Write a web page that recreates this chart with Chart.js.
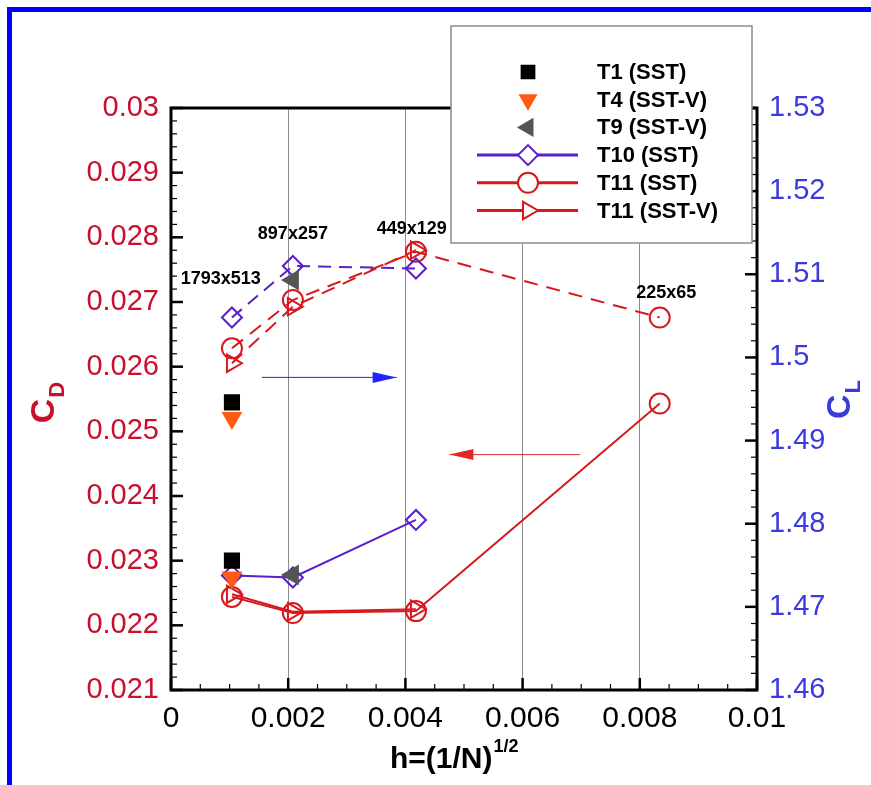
<!DOCTYPE html>
<html><head><meta charset="utf-8">
<script src="https://cdn.jsdelivr.net/npm/chart.js@4.4.0/dist/chart.umd.min.js"></script>
<style>
html,body{margin:0;padding:0;background:#fff;}
#wrap{position:relative;width:871px;height:785px;overflow:hidden;}
#frame{position:absolute;left:7px;top:7px;width:900px;height:900px;border-left:5px solid #0000ff;border-top:5px solid #0000ff;}
canvas{position:absolute;left:0;top:0;}
</style></head><body>
<div id="wrap"><div id="frame"></div><canvas id="c" width="871" height="785"></canvas></div>
<script>
// ---------- data ----------
const xTicks  = [0, 0.002, 0.004, 0.006, 0.008, 0.01];
const cdTicks = [0.021, 0.022, 0.023, 0.024, 0.025, 0.026, 0.027, 0.028, 0.029, 0.03];
const clTicks = [1.46, 1.47, 1.48, 1.49, 1.5, 1.51, 1.52, 1.53];

const hT1 = [0.00104];   const cdT1 = [0.0230];  const clT1 = [1.4946];
const hT4 = [0.00104];   const cdT4 = [0.02274]; const clT4 = [1.4927];
const hT9 = [0.00208];   const cdT9 = [0.02278]; const clT9 = [1.5093];
const hT10 = [0.00104, 0.00208, 0.00418];
const cdT10 = [0.02277, 0.02274, 0.02363];
const clT10 = [1.5048, 1.5110, 1.5107];
const hT11 = [0.00104, 0.00208, 0.00418, 0.00834];
const cdT11 = [0.02244, 0.02219, 0.02222, 0.02543];
const clT11 = [1.5011, 1.5069, 1.5127, 1.5048];
const hT11V = [0.00104, 0.00208, 0.00418];
const cdT11V = [0.02248, 0.02221, 0.02225];
const clT11V = [1.4993, 1.5061, 1.5129];

const meshLabels = ['1793x513', '897x257', '449x129', '225x65'];
const meshLabelH  = [0.00085, 0.00208, 0.00411, 0.00845];
const meshLabelCL = [1.5094, 1.5148, 1.5154, 1.5077];

const legendNames = ['T1 (SST)', 'T4 (SST-V)', 'T9 (SST-V)', 'T10 (SST)', 'T11 (SST)', 'T11 (SST-V)'];

// ---------- styles ----------
const FONT = '"Liberation Sans", Arial, Helvetica, sans-serif';
const RED = '#d7191e', PURPLE = '#5a1fc8', ORANGE = '#ff5a14', GRAY = '#555555';
const CD_TXT = '#c8102e', CL_TXT = '#3a3ade';
const NONE = 'rgba(0,0,0,0)';
const S = {
  T1:   {color:'#000', fill:'#000', style:'rect', rot:0, r:10, line:false, lw:1},
  T4:   {color:ORANGE, fill:ORANGE, style:'triangle', rot:180, r:10, line:false, lw:1},
  T9:   {color:GRAY, fill:GRAY, style:'triangle', rot:270, r:10, line:false, lw:1},
  T10:  {color:PURPLE, fill:NONE, style:'rectRot', rot:0, r:10, line:true, lw:2},
  T11:  {color:RED, fill:NONE, style:'circle', rot:0, r:10, line:true, lw:2},
  T11V: {color:RED, fill:NONE, style:'triangle', rot:90, r:10, line:true, lw:2}
};
const DASH = [13, 8];

function ds(label, hs, vals, axis, st, dash) {
  return {
    label, yAxisID: axis,
    data: hs.map((h, i) => ({x: h, y: vals[i]})),
    borderColor: st.color, backgroundColor: st.fill,
    borderWidth: st.lw, borderDash: dash || [], showLine: st.line,
    pointStyle: st.style, pointRotation: st.rot, pointRadius: st.r,
    pointBorderWidth: 2, pointBackgroundColor: st.fill, pointBorderColor: st.color,
    tension: 0, clip: false
  };
}

const datasets = [
  ds('T1 CD', hT1, cdT1, 'y', S.T1),
  ds('T1 CL', hT1, clT1, 'y2', S.T1),
  ds('T9 CD', hT9, cdT9, 'y', S.T9),
  ds('T9 CL', hT9, clT9, 'y2', S.T9),
  ds('T4 CD', hT4, cdT4, 'y', S.T4),
  ds('T4 CL', hT4, clT4, 'y2', S.T4),
  ds('T10 CD', hT10, cdT10, 'y', S.T10),
  ds('T10 CL', hT10, clT10, 'y2', S.T10, DASH),
  ds('T11 SST CD', hT11, cdT11, 'y', S.T11),
  ds('T11 SST CL', hT11, clT11, 'y2', S.T11, [14, 9]),
  ds('T11 SST-V CD', hT11V, cdT11V, 'y', S.T11V),
  ds('T11 SST-V CL', hT11V, clT11V, 'y2', S.T11V, [14, 9])
];

function line(ctx, x1, y1, x2, y2) { ctx.beginPath(); ctx.moveTo(x1, y1); ctx.lineTo(x2, y2); ctx.stroke(); }

const framePlugin = {
  id: 'frame',
  beforeDatasetsDraw(chart) {
    const {ctx, chartArea: a, scales} = chart;
    const x = scales.x, y = scales.y, y2 = scales.y2;
    ctx.save();
    ctx.strokeStyle = '#000';
    for (let k = 0; k <= 20; k++) {
      const px = x.getPixelForValue(k * 0.0005); const maj = k % 4 === 0;
      ctx.lineWidth = maj ? 2.5 : 1.2; line(ctx, px, a.bottom, px, a.bottom - (maj ? 12 : 6));
    }
    for (let k = 0; k <= 45; k++) {
      const py = y.getPixelForValue(0.021 + k * 0.0002); const maj = k % 5 === 0;
      ctx.lineWidth = maj ? 2.5 : 1.2; line(ctx, a.left, py, a.left + (maj ? 12 : 6), py);
    }
    for (let k = 0; k <= 35; k++) {
      const py = y2.getPixelForValue(1.46 + k * 0.002); const maj = k % 5 === 0;
      ctx.lineWidth = maj ? 2.5 : 1.2; line(ctx, a.right, py, a.right - (maj ? 12 : 6), py);
    }
    ctx.lineWidth = 3;
    ctx.strokeRect(a.left, a.top, a.right - a.left, a.bottom - a.top);
    ctx.restore();
  },
  afterDatasetsDraw(chart) {
    const {ctx, chartArea: a, scales} = chart;
    const x = scales.x, y = scales.y, y2 = scales.y2;
    ctx.save();
    function arrow(x1, x2, py, color) {
      ctx.strokeStyle = color; ctx.fillStyle = color; ctx.lineWidth = 1;
      line(ctx, x1, py, x2, py);
      const dir = Math.sign(x2 - x1);
      ctx.beginPath(); ctx.moveTo(x2, py); ctx.lineTo(x2 - dir * 24, py - 5.5); ctx.lineTo(x2 - dir * 24, py + 5.5); ctx.closePath(); ctx.fill();
    }
    arrow(x.getPixelForValue(0.00155), x.getPixelForValue(0.00385), y2.getPixelForValue(1.4976), '#2323ff');
    arrow(x.getPixelForValue(0.00698), x.getPixelForValue(0.00475), y.getPixelForValue(0.02464), '#e02828');
    ctx.fillStyle = '#000'; ctx.font = 'bold 18px ' + FONT; ctx.textAlign = 'center'; ctx.textBaseline = 'middle';
    meshLabels.forEach((t, i) => ctx.fillText(t, x.getPixelForValue(meshLabelH[i]), y2.getPixelForValue(meshLabelCL[i])));
    ctx.restore();
  },
  afterDraw(chart) {
    const {ctx} = chart;
    ctx.save();
    function rotTitle(bx, cy, main, sub, color) {
      ctx.save(); ctx.translate(bx, cy); ctx.rotate(-Math.PI / 2);
      ctx.fillStyle = color; ctx.textAlign = 'left'; ctx.textBaseline = 'alphabetic';
      ctx.font = 'bold 34px ' + FONT; const w1 = ctx.measureText(main).width;
      ctx.font = 'bold 22px ' + FONT; const w2 = ctx.measureText(sub).width;
      const st = -(w1 + w2) / 2;
      ctx.font = 'bold 34px ' + FONT; ctx.fillText(main, st, 0);
      ctx.font = 'bold 22px ' + FONT; ctx.fillText(sub, st + w1 + 1, 10);
      ctx.restore();
    }
    rotTitle(54, 403, 'C', 'D', CD_TXT);
    rotTitle(850, 400, 'C', 'L', CL_TXT);
    ctx.fillStyle = '#000'; ctx.textAlign = 'left'; ctx.textBaseline = 'alphabetic';
    ctx.font = 'bold 30px ' + FONT; ctx.fillText('h=(1/N)', 390, 768);
    const wx = ctx.measureText('h=(1/N)').width;
    ctx.font = 'bold 18px ' + FONT; ctx.fillText('1/2', 390 + wx + 1, 752);

    const L = {x: 451, y: 26, w: 301, h: 217, sx: 528, lx1: 477, lx2: 578, tx: 597, y0: 72, dy: 27.7};
    ctx.fillStyle = '#fff'; ctx.fillRect(L.x, L.y, L.w, L.h);
    ctx.strokeStyle = '#8c8c8c'; ctx.lineWidth = 1.5; ctx.strokeRect(L.x, L.y, L.w, L.h);
    const keys = ['T1', 'T4', 'T9', 'T10', 'T11', 'T11V'];
    keys.forEach((k, i) => {
      const st = S[k]; const py = L.y0 + i * L.dy;
      if (st.line) { ctx.strokeStyle = st.color; ctx.lineWidth = 3; line(ctx, L.lx1, py, L.lx2, py); }
      ctx.fillStyle = st.fill === NONE ? '#fff' : st.fill; ctx.strokeStyle = st.color; ctx.lineWidth = 2;
      ctx.save();
      const r = (k === 'T1' || k === 'T4' || k === 'T9') ? 9 : st.r;
      Chart.helpers.drawPoint(ctx, {pointStyle: st.style, rotation: st.rot, radius: r, borderWidth: 2}, L.sx, py);
      ctx.restore();
      ctx.fillStyle = '#000'; ctx.font = 'bold 22px ' + FONT; ctx.textAlign = 'left'; ctx.textBaseline = 'middle';
      ctx.fillText(legendNames[i], L.tx, py + 1);
    });
    ctx.restore();
  }
};

const fmt = d => v => String(+Number(v).toFixed(d));

new Chart(document.getElementById('c'), {
  type: 'line',
  data: {datasets},
  options: {
    responsive: false, animation: false, events: [],
    layout: {padding: {top: 108, left: 0, right: 0, bottom: 0}},
    plugins: {legend: {display: false}, tooltip: {enabled: false}},
    scales: {
      x: {
        type: 'linear', position: 'bottom', min: 0, max: 0.01,
        afterBuildTicks: s => { s.ticks = xTicks.map(v => ({value: v})); },
        afterFit: s => { s.height = 95; },
        ticks: {color: '#000', font: {family: FONT, size: 30}, padding: 11, callback: fmt(4), maxRotation: 0, autoSkip: false},
        grid: {drawTicks: false, lineWidth: 1, color: c => (c.tick && c.tick.value > 0.0001 && c.tick.value < 0.0099) ? '#8c8c8c' : NONE},
        border: {display: false}
      },
      y: {
        type: 'linear', position: 'left', min: 0.021, max: 0.03,
        afterBuildTicks: s => { s.ticks = cdTicks.map(v => ({value: v})); },
        afterFit: s => { s.width = 171; },
        ticks: {color: CD_TXT, font: {family: FONT, size: 29}, padding: 12, callback: fmt(4), autoSkip: false},
        grid: {display: false, drawTicks: false}, border: {display: false}
      },
      y2: {
        type: 'linear', position: 'right', min: 1.46, max: 1.53,
        afterBuildTicks: s => { s.ticks = clTicks.map(v => ({value: v})); },
        afterFit: s => { s.width = 114; },
        ticks: {color: CL_TXT, font: {family: FONT, size: 29}, padding: 12, callback: fmt(3), autoSkip: false},
        grid: {display: false, drawTicks: false}, border: {display: false}
      }
    }
  },
  plugins: [framePlugin]
});
</script>
</body></html>
